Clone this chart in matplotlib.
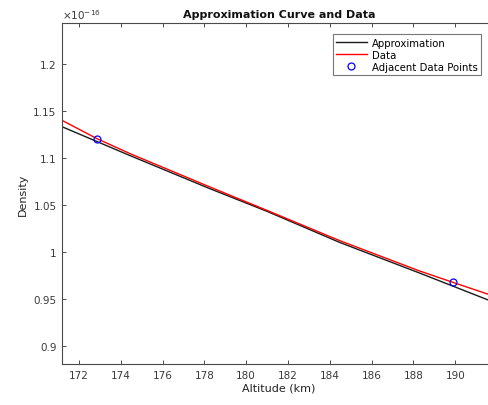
import matplotlib.pyplot as plt
from matplotlib.ticker import FuncFormatter

# data (density in units of 1e-16)
alt_data = [171.19, 172.85, 174.44, 178.27, 181.0, 184.5, 188.3, 189.88, 191.95]
dens_data = [1.1404, 1.121, 1.105, 1.0694, 1.0445, 1.0121, 0.980, 0.968, 0.9525]
alt_approx = [171.19, 174.44, 178.27, 181.0, 184.5, 188.3, 191.95]
dens_approx = [1.1336, 1.1029, 1.0676, 1.0435, 1.0102, 0.9778, 0.9459]
alt_pts = [172.85, 189.88]
dens_pts = [1.121, 0.968]

axc = '#4a4a4a'
txtc = '#3a3a3a'

fig = plt.figure(figsize=(4.89, 4.06), dpi=100)
# right edge of the box falls just outside the picture, as in the reference
ax = fig.add_axes([62 / 489, 40.7 / 406, 434 / 489, 341.3 / 406])

ax.plot(alt_approx, dens_approx, color='#1a1a1a', lw=1.0, label='Approximation')
ax.plot(alt_data, dens_data, color='red', lw=1.0, label='Data')
ax.plot(alt_pts, dens_pts, 'o', color='blue', mfc='none', ms=5, mew=0.9,
        label='Adjacent Data Points')

ax.set_xlim(171.19, 191.95)
ax.set_ylim(0.8807, 1.244)
ax.set_xticks(range(172, 192, 2))
ax.set_yticks([0.9, 0.95, 1.0, 1.05, 1.1, 1.15, 1.2])
ax.yaxis.set_major_formatter(FuncFormatter(lambda v, p: '%g' % round(v, 3)))
ax.tick_params(direction='in', length=3, width=0.7, top=True, right=True,
               colors=axc, labelcolor=txtc, labelsize=7.5, pad=4)
for s in ax.spines.values():
    s.set_color(axc)
    s.set_linewidth(0.8)

ax.set_xlabel('Altitude (km)', fontsize=8, color='#222222', labelpad=2)
ax.set_ylabel('Density', fontsize=8, color='#222222', labelpad=4)
ax.set_title('Approximation Curve and Data', fontsize=8, fontweight='bold',
             color='#111111', pad=4)
ax.text(0.0, 1.005, r'$\times10^{-16}$', transform=ax.transAxes, fontsize=7.5,
        color=txtc, va='bottom', ha='left')

leg = ax.legend(loc='upper right', bbox_to_anchor=(481 / 489, 1 - 35 / 406),
                bbox_transform=fig.transFigure, fontsize=7.3, frameon=True,
                fancybox=False, borderpad=0.35, labelspacing=0.2, handlelength=3.0,
                handletextpad=0.5, borderaxespad=0.0)
leg.get_frame().set_edgecolor('#555555')
leg.get_frame().set_linewidth(0.8)

fig.savefig('out.png', dpi=100)
